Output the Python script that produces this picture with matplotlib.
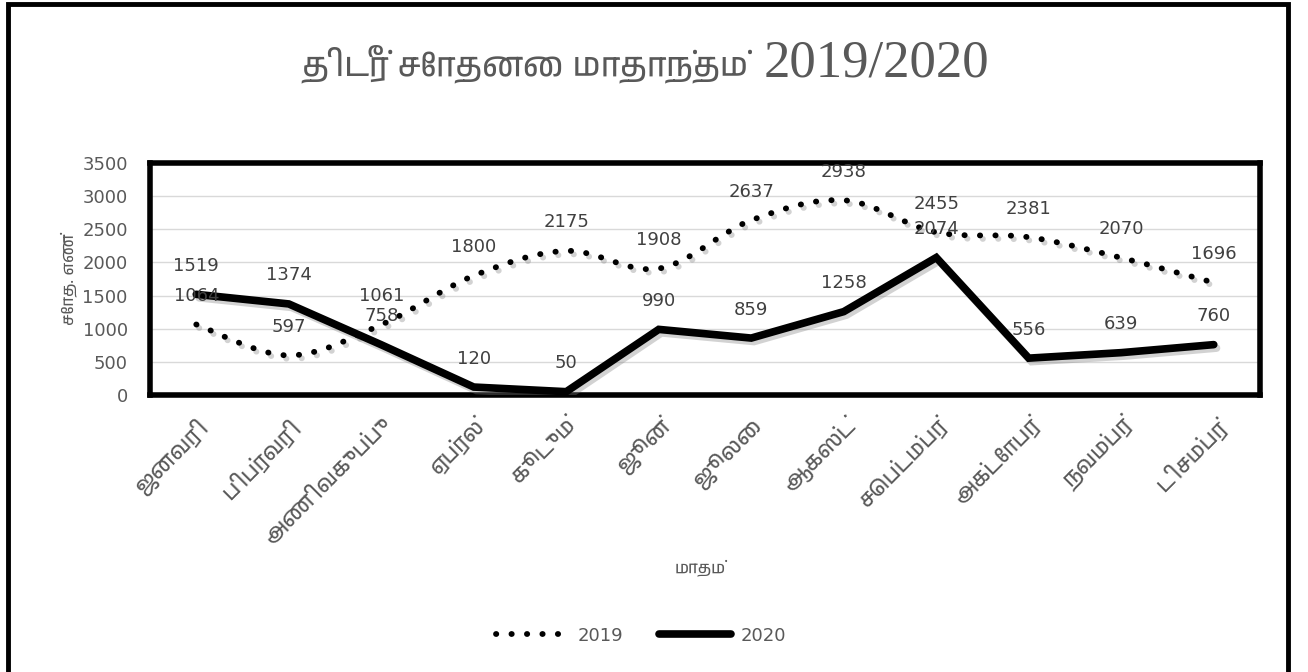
import matplotlib
matplotlib.use("Agg")
import matplotlib.pyplot as plt
import matplotlib.patheffects as pe
from matplotlib import font_manager
from matplotlib.path import Path
from matplotlib.patches import PathPatch, Rectangle
from matplotlib.lines import Line2D
import numpy as np

# data
months = ["ஜனவரி", "பிப்ரவரி", "அணிவகுப்பு", "ஏப்ரல்", "கூடும்", "ஜூன்",
          "ஜூலை", "ஆகஸ்ட்", "செப்டம்பர்", "அக்டோபர்", "நவம்பர்", "டிசம்பர்"]
y2019 = [1064, 597, 1061, 1800, 2175, 1908, 2637, 2938, 2455, 2381, 2070, 1696]
y2020 = [1519, 1374, 758, 120, 50, 990, 859, 1258, 2074, 556, 639, 760]
yticks = [0, 500, 1000, 1500, 2000, 2500, 3000, 3500]

# any font that can draw Tamil, if one is around
tamil = sorted({f.name for f in font_manager.fontManager.ttflist if "Tamil" in f.name})
fam = tamil + ["DejaVu Sans"]
serif_fam = ["Liberation Serif"] + tamil + ["DejaVu Serif"]

fig = plt.figure(figsize=(13.08, 6.72), dpi=100)
ax = fig.add_axes([0.1147, 0.4122, 0.8486, 0.3452])

x = np.arange(len(months))

# 2019: smoothed dotted line (bezier through the points)
pts = np.column_stack([x, y2019]).astype(float)
verts = [pts[0]]
codes = [Path.MOVETO]
for i in range(len(pts) - 1):
    p0 = pts[i - 1] if i > 0 else pts[i]
    p1, p2 = pts[i], pts[i + 1]
    p3 = pts[i + 2] if i + 2 < len(pts) else pts[i + 1]
    verts += [p1 + (p2 - p0) / 6, p2 - (p3 - p1) / 6, p2]
    codes += [Path.CURVE4] * 3
shadow = [pe.SimpleLineShadow(offset=(2, -2.5), shadow_color="gray", alpha=0.35), pe.Normal()]
dots = (0, (0.05, 2.6))
patch = PathPatch(Path(verts, codes), fill=False, edgecolor="black", lw=4.2,
                  linestyle=dots, capstyle="round", zorder=3)
patch.set_path_effects(shadow)
ax.add_patch(patch)

# 2020: solid line
ax.plot(x, y2020, color="black", lw=5.5, solid_joinstyle="miter",
        solid_capstyle="round", zorder=3, path_effects=shadow)

for xi, v in zip(x, y2019):
    ax.annotate(str(v), (xi, v), xytext=(0, 14), textcoords="offset points",
                ha="center", va="bottom", fontsize=13, color="#404040")
for xi, v in zip(x, y2020):
    ax.annotate(str(v), (xi, v), xytext=(0, 14), textcoords="offset points",
                ha="center", va="bottom", fontsize=13, color="#404040")

ax.set_xlim(-0.5, len(months) - 0.5)
ax.set_ylim(0, 3500)
ax.set_yticks(yticks)
ax.set_yticklabels([str(t) for t in yticks], fontsize=13, color="#595959")
ax.set_xticks(x)
ax.set_xticklabels(months, rotation=45, ha="right", rotation_mode="anchor",
                   fontsize=16, color="#595959", family=fam)
ax.tick_params(axis="y", length=0, pad=16)
ax.tick_params(axis="x", length=0, pad=14)
ax.grid(axis="y", color="#d9d9d9", lw=1)
ax.set_axisbelow(True)
for s in ax.spines.values():
    s.set_linewidth(4)
    s.set_color("black")
    s.set_path_effects([pe.SimplePatchShadow(offset=(2, -2), alpha=0.4), pe.Normal()])

ax.set_ylabel("சோத. எண்", fontsize=12, color="#595959", family=fam, labelpad=4)
fig.text(0.535, 0.148, "மாதம்", fontsize=12, color="#595959", family=fam, ha="center")

# title: Tamil words, then the years in a serif face
fig.text(0.572, 0.905, "திடீர் சோதனை மாதாந்தம்", fontsize=24,
         color="#595959", family=fam, ha="right", va="center")
fig.text(0.584, 0.905, "2019/2020", fontsize=38,
         color="#595959", family=serif_fam, ha="left", va="center")

handles = [Line2D([], [], color="black", lw=4.2, linestyle=dots,
                  dash_capstyle="round"),
           Line2D([], [], color="black", lw=5.5, solid_capstyle="round")]
fig.legend(handles, ["2019", "2020"], loc="center", bbox_to_anchor=(0.49, 0.054),
           ncol=2, frameon=False, fontsize=13, handlelength=4.0,
           columnspacing=2.0, handletextpad=0.5, labelcolor="#595959")

# outer chart border
fig.add_artist(Rectangle((8 / 1308, -0.02), 1280 / 1308, 1.02 - 4 / 672,
                         transform=fig.transFigure, fill=False,
                         edgecolor="black", lw=3.5))

fig.savefig("out.png", dpi=100)
